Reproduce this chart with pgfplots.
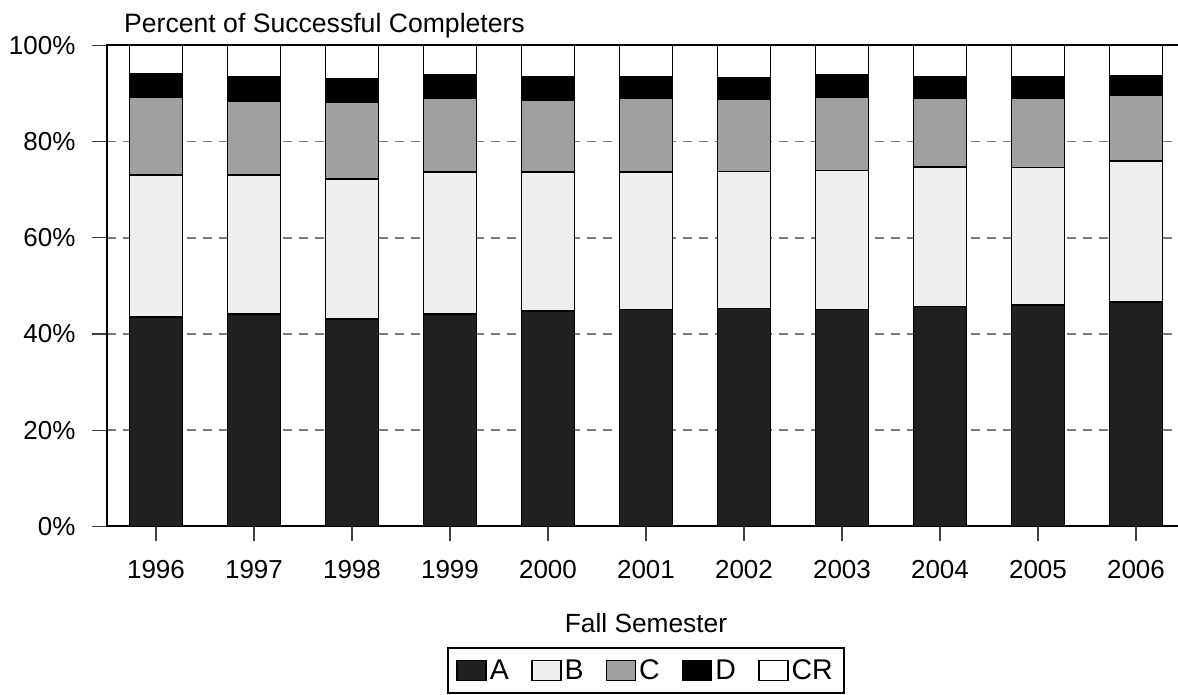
\documentclass[border=0pt]{standalone}
\usepackage{pgfplots}
\usepackage{pgfplotstable}
\pgfplotsset{compat=1.18}
\usepackage{fontspec}
\setmainfont{Liberation Sans}
\definecolor{cA}{HTML}{212121}
\definecolor{cB}{HTML}{EEEEEE}
\definecolor{cC}{HTML}{A0A0A0}
\definecolor{cD}{HTML}{000000}
\definecolor{cCR}{HTML}{FFFFFF}
\definecolor{gridc}{HTML}{7A7A7A}

\pgfplotstableread{
x A B C D CR
0 43.5 29.5 16.2 4.8 6.0
1 44.2 28.8 15.5 4.9 6.6
2 43.2 29.1 15.9 4.9 6.9
3 44.2 29.4 15.5 4.8 6.1
4 44.7 28.9 15.0 4.8 6.6
5 45.1 28.6 15.3 4.5 6.5
6 45.3 28.5 15.1 4.3 6.8
7 45.1 28.9 15.2 4.7 6.1
8 45.7 29.0 14.4 4.4 6.5
9 46.1 28.5 14.5 4.4 6.5
10 46.6 29.4 13.6 4.1 6.3
}\grades

\begin{document}
\begin{tikzpicture}
\begin{axis}[
  at={(0pt,0pt)}, anchor=south west,
  scale only axis, width=1078pt, height=481pt,
  ybar stacked, bar width=53pt,
  xmin=-0.5, xmax=10.5, ymin=0, ymax=100,
  xtick={0,1,2,3,4,5,6,7,8,9,10},
  xticklabels={1996,1997,1998,1999,2000,2001,2002,2003,2004,2005,2006},
  ytick={0,20,40,60,80,100},
  yticklabels={0\%,20\%,40\%,60\%,80\%,100\%},
  ymajorgrids,
  grid style={gridc, line width=1.5pt, dash pattern=on 9pt off 7pt},
  axis line style={black, line width=2pt},
  tick align=outside, tick pos=left, major tick length=15pt,
  tick style={black!75, line width=1.2pt},
  tick label style={font=\fontsize{26}{30}\selectfont},
  yticklabel style={xshift=-13pt},
  xticklabel style={yshift=-15pt},
  legend image code/.code={\draw[#1, line width=1.6pt] (0pt,-10pt) rectangle (29pt,10pt);},
  legend columns=5,
  legend style={at={(0.5,-0.2507)}, anchor=north, draw=black, line width=2pt,
    font=\fontsize{28.5}{32}\selectfont, inner xsep=8pt, inner ysep=10pt,
    /tikz/every odd column/.append style={column sep=0pt},
    /tikz/every even column/.append style={column sep=19pt},
    nodes={inner xsep=3pt}},
  every axis plot/.append style={draw=black, line width=1.8pt},
]
\addplot[fill=cA] table[x=x,y=A]{\grades};
\addplot[fill=cB] table[x=x,y=B]{\grades};
\addplot[fill=cC] table[x=x,y=C]{\grades};
\addplot[fill=cD] table[x=x,y=D]{\grades};
\addplot[fill=cCR] table[x=x,y=CR]{\grades};
\legend{A,B,C,D,CR}
\end{axis}
\node[anchor=base west, inner sep=0pt, font=\fontsize{26.6}{31}\selectfont] at (17pt,493.4pt) {Percent of Successful Completers};
\node[anchor=base, inner sep=0pt, font=\fontsize{26.3}{31}\selectfont] at (539pt,-105.6pt) {Fall Semester};
\pgfresetboundingbox
\path[use as bounding box] (-107pt,-167.6pt) rectangle (1071pt,526.4pt);
\end{tikzpicture}
\end{document}
